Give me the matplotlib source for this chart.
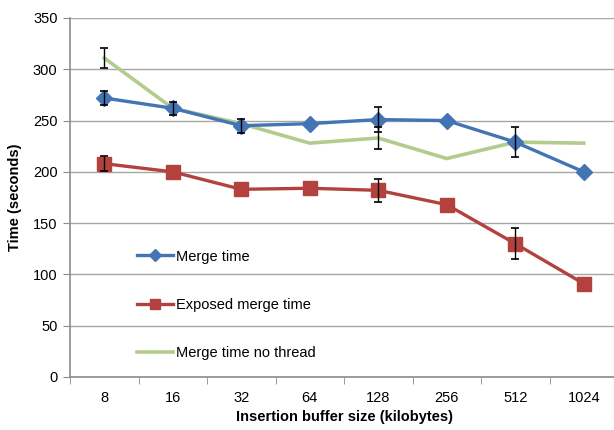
import numpy as np
import matplotlib
matplotlib.use("Agg")
import matplotlib.pyplot as plt

plt.rcParams['font.family'] = ['Liberation Sans', 'DejaVu Sans']

# donnees
buffer_sizes = ['8', '16', '32', '64', '128', '256', '512', '1024']
merge_time = [272, 262, 245, 247, 251, 250, 229, 200]
merge_err = [7, 6.5, 7, 0, 12, 0, 15, 0]
exposed_time = [208, 200, 183, 184, 182, 168, 130, 91]
exposed_err = [7, 0, 0, 0, 11.5, 0, 15, 0]
nothread_time = [311, 262, 247, 228, 233, 213, 229, 228]
nothread_err = [10, 0, 0, 0, 11, 0, 0, 0]

blue = '#4374B3'
red = '#B3413E'
green = '#B3CB8C'
gris = '#8C8C8C'

fig = plt.figure(figsize=(6.14, 4.30), dpi=100)
ax = fig.add_axes([70/614, 53/430, 548/614, 359/430])

x = np.arange(len(buffer_sizes))

ax.plot(x, merge_time, '-D', color=blue, lw=2.4, ms=8, label='Merge time', zorder=4)
ax.plot(x, exposed_time, '-s', color=red, lw=2.4, ms=9.5, label='Exposed merge time', zorder=4)
ax.plot(x, nothread_time, '-', color=green, lw=2.6, label='Merge time no thread', zorder=3)

# barres d'erreur
for vals, errs in [(merge_time, merge_err), (exposed_time, exposed_err), (nothread_time, nothread_err)]:
    idx = [i for i, e in enumerate(errs) if e > 0]
    ax.errorbar([x[i] for i in idx], [vals[i] for i in idx], yerr=[errs[i] for i in idx],
                fmt='none', ecolor='black', elinewidth=1, capsize=3, capthick=1.2, zorder=5)

ax.set_xlim(-0.5, 7.5)
ax.set_ylim(0, 350)
ax.set_yticks(np.arange(0, 351, 50))
ax.set_xticks(x)
ax.set_xticklabels(buffer_sizes)
ax.set_xticks(np.arange(-0.5, 7.6, 1), minor=True)
ax.tick_params(axis='x', which='major', length=0, pad=10, labelsize=10.5)
ax.tick_params(axis='x', which='minor', length=5, color=gris, direction='out')
ax.tick_params(axis='y', length=5, color=gris, labelsize=10.5, pad=4)

ax.grid(axis='y', color='#A6A6A6', lw=1)
ax.set_axisbelow(True)
for s in ['top', 'right']:
    ax.spines[s].set_visible(False)
for s in ['left', 'bottom']:
    ax.spines[s].set_color(gris)
    ax.spines[s].set_linewidth(1.2)
ax.spines['left'].set_zorder(6)

ax.set_xlabel('Insertion buffer size (kilobytes)', fontsize=10.5, fontweight='bold', labelpad=4)
ax.set_ylabel('Time (seconds)', fontsize=10.5, fontweight='bold', labelpad=8)

ax.legend(loc='upper left', bbox_to_anchor=(0.122, 0.355), frameon=False, fontsize=10.5,
          labelspacing=2.35, handlelength=2.5, handletextpad=0.15, borderpad=0,
          borderaxespad=0, markerscale=0.75)

fig.savefig('out.png', dpi=100)
